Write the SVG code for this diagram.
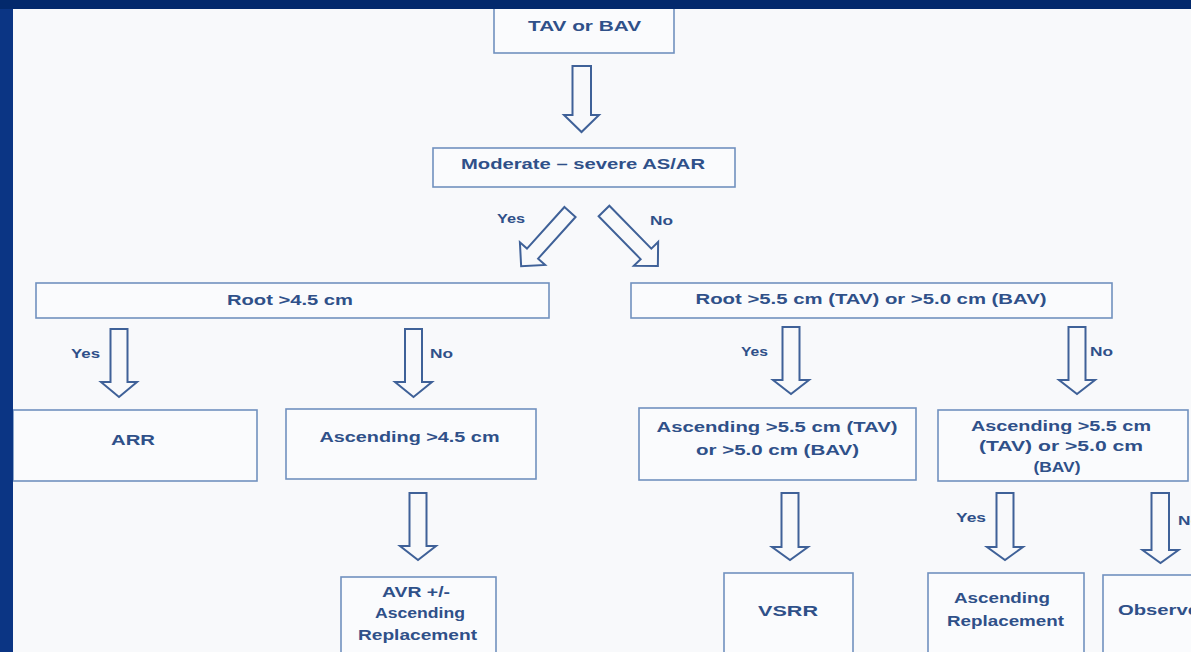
<svg xmlns="http://www.w3.org/2000/svg" width="1191" height="652" viewBox="0 0 1191 652">
<style>
.box{fill:#fafbfd;stroke:#7191bf;stroke-width:1.6}
.t{font-family:"Liberation Sans",Arial,sans-serif;font-weight:700;font-size:15px;fill:#2f5089;text-anchor:middle}
.s{font-family:"Liberation Sans",Arial,sans-serif;font-weight:700;font-size:12.5px;fill:#2f5089}
.arr{fill:none;stroke:#3f6198;stroke-width:2;stroke-linejoin:miter}
</style>
<rect x="0" y="0" width="1191" height="652" fill="#f8f9fb"/>

<g id="connectors">
  <path class="arr" d="M572.5,66 H591 V115 H599 L581.5,132 L564,115 H572.5 Z"/>
  <path class="arr" transform="translate(570,212) rotate(42)" d="M-7.5,0 H7.5 V56 H17 L0,73 L-17,56 H-7.5 Z"/>
  <path class="arr" transform="translate(604,211) rotate(-44.4)" d="M-7.5,0 H7.5 V60 H17 L0,77 L-17,60 H-7.5 Z"/>
  <text class="s" x="497" y="223" textLength="28" lengthAdjust="spacingAndGlyphs">Yes</text>
  <text class="s" x="650" y="225" textLength="23" lengthAdjust="spacingAndGlyphs">No</text>

  <path class="arr" d="M110.5,329 H127.5 V382 H137 L119,397 L101,382 H110.5 Z"/>
  <text class="s" x="71" y="358" textLength="29" lengthAdjust="spacingAndGlyphs">Yes</text>
  <path class="arr" d="M405,329 H422 V382 H432 L413.5,397 L395,382 H405 Z"/>
  <text class="s" x="430" y="358" textLength="23" lengthAdjust="spacingAndGlyphs">No</text>

  <path class="arr" d="M782.5,327 H799.5 V380 H809 L791,394 L773,380 H782.5 Z"/>
  <text class="s" x="741" y="356" textLength="27" lengthAdjust="spacingAndGlyphs">Yes</text>
  <path class="arr" d="M1068.5,327 H1085.5 V380 H1095 L1077,394 L1059,380 H1068.5 Z"/>
  <text class="s" x="1090" y="356" textLength="23" lengthAdjust="spacingAndGlyphs">No</text>

  <path class="arr" d="M409.5,493 H426.5 V546 H436 L418,560 L400,546 H409.5 Z"/>
  <path class="arr" d="M781.5,493 H798.5 V547 H808 L790,560 L772,547 H781.5 Z"/>
  <path class="arr" d="M996.5,493 H1013.5 V547 H1023 L1005,560 L987,547 H996.5 Z"/>
  <text class="s" x="956" y="522" textLength="30" lengthAdjust="spacingAndGlyphs">Yes</text>
  <path class="arr" d="M1151.5,493 H1169 V550 H1178.5 L1160.5,563 L1142.5,550 H1151.5 Z"/>
  <text class="s" x="1178" y="525" textLength="23" lengthAdjust="spacingAndGlyphs">No</text>
</g>

<g id="n-tav">
  <rect class="box" x="494" y="0" width="180" height="53"/>
  <text class="t" x="584.5" y="31" textLength="113" lengthAdjust="spacingAndGlyphs">TAV or BAV</text>
</g>
<g id="n-moderate">
  <rect class="box" x="433" y="148" width="302" height="39"/>
  <text class="t" x="583" y="169" textLength="244" lengthAdjust="spacingAndGlyphs">Moderate – severe AS/AR</text>
</g>
<g id="n-root45">
  <rect class="box" x="36" y="283" width="513" height="35"/>
  <text class="t" x="290" y="305" textLength="126" lengthAdjust="spacingAndGlyphs">Root &gt;4.5 cm</text>
</g>
<g id="n-root55">
  <rect class="box" x="631" y="283" width="481" height="35"/>
  <text class="t" x="871" y="304" textLength="351" lengthAdjust="spacingAndGlyphs">Root &gt;5.5 cm (TAV) or &gt;5.0 cm (BAV)</text>
</g>
<g id="n-arr">
  <rect class="box" x="13" y="410" width="244" height="71"/>
  <text class="t" x="133" y="445" textLength="44" lengthAdjust="spacingAndGlyphs">ARR</text>
</g>
<g id="n-asc45">
  <rect class="box" x="286" y="409" width="250" height="70"/>
  <text class="t" x="409.5" y="442" textLength="180" lengthAdjust="spacingAndGlyphs">Ascending &gt;4.5 cm</text>
</g>
<g id="n-avr">
  <rect class="box" x="341" y="577" width="155" height="100"/>
  <text class="t" x="416" y="597" textLength="68" lengthAdjust="spacingAndGlyphs">AVR +/-</text>
  <text class="t" x="420" y="618" textLength="90" lengthAdjust="spacingAndGlyphs">Ascending</text>
  <text class="t" x="417.5" y="640" textLength="119" lengthAdjust="spacingAndGlyphs">Replacement</text>
</g>
<g id="n-asc55-mid">
  <rect class="box" x="639" y="408" width="277" height="72"/>
  <text class="t" x="777" y="432" textLength="241" lengthAdjust="spacingAndGlyphs">Ascending &gt;5.5 cm (TAV)</text>
  <text class="t" x="777.5" y="455" textLength="163" lengthAdjust="spacingAndGlyphs">or &gt;5.0 cm (BAV)</text>
</g>
<g id="n-asc55-right">
  <rect class="box" x="938" y="410" width="250" height="71"/>
  <text class="t" x="1061" y="431" textLength="180" lengthAdjust="spacingAndGlyphs">Ascending &gt;5.5 cm</text>
  <text class="t" x="1061" y="451" textLength="164" lengthAdjust="spacingAndGlyphs">(TAV) or &gt;5.0 cm</text>
  <text class="t" x="1057" y="472" textLength="47" lengthAdjust="spacingAndGlyphs">(BAV)</text>
</g>
<g id="n-vsrr">
  <rect class="box" x="724" y="573" width="129" height="100"/>
  <text class="t" x="788" y="616" textLength="60" lengthAdjust="spacingAndGlyphs">VSRR</text>
</g>
<g id="n-ascrepl">
  <rect class="box" x="928" y="573" width="156" height="100"/>
  <text class="t" x="1002" y="603" textLength="96" lengthAdjust="spacingAndGlyphs">Ascending</text>
  <text class="t" x="1005.5" y="626" textLength="117" lengthAdjust="spacingAndGlyphs">Replacement</text>
</g>
<g id="n-observe">
  <rect class="box" x="1103" y="575" width="150" height="100"/>
  <text class="t" x="1158.5" y="615" textLength="81" lengthAdjust="spacingAndGlyphs">Observe</text>
</g>

<g id="frame">
  <rect x="0" y="0" width="13" height="652" fill="#0b3584"/>
  <rect x="0" y="0" width="1191" height="9" fill="#03296c"/>
</g>
</svg>
